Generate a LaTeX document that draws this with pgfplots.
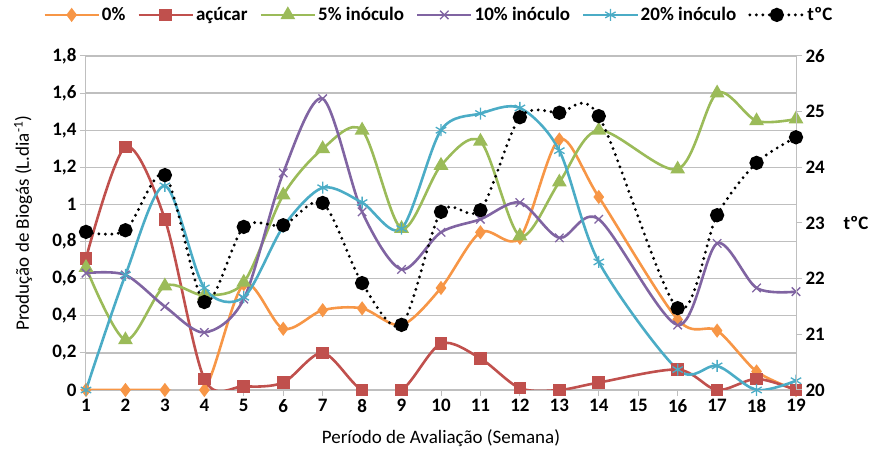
\documentclass[border=0pt]{standalone}
\usepackage{pgfplots}
\pgfplotsset{compat=1.18}
\usepackage{fontspec}
\setmainfont{Carlito}
\definecolor{c0}{HTML}{F79646}
\definecolor{c1}{HTML}{C0504D}
\definecolor{c2}{HTML}{9BBB59}
\definecolor{c3}{HTML}{8064A2}
\definecolor{c4}{HTML}{4BACC6}
\definecolor{gridc}{HTML}{BFBFBF}
\newcommand{\fs}{\fontsize{19}{22}\selectfont}
\pgfplotsset{
  common/.style={
    scale only axis, width=710pt, height=334pt,
    xmin=1, xmax=19,
    /pgf/number format/assume math mode=true,
    tick label style={font=\fs\bfseries},
    major tick length=6pt,
    tick align=outside,
    tick style={gridc, line width=1pt},
    axis line style={gridc, line width=1pt},
  },
  ser/.style={line width=2.6pt, smooth, tension=0.5, mark options={solid}},
}
\begin{document}
\begin{tikzpicture}
\begin{axis}[common, name=ax,
  ymin=0, ymax=1.8,
  axis y line*=left, axis x line*=bottom,
  xtick={1,...,19},
  ytick={0,0.2,0.4,0.6,0.8,1,1.2,1.4,1.6,1.8},
  yticklabel style={/pgf/number format/.cd, use comma, fixed, precision=1},
  ymajorgrids, grid style={gridc, line width=1.3pt},
  legend columns=6,
  legend style={draw=none, fill=none, font=\fs\bfseries, at={(0.497,1.123)}, anchor=center,
    /tikz/every even column/.append style={column sep=10pt}},
  legend image code/.code={\draw[mark repeat=2,mark phase=2,#1] plot coordinates {(0pt,0pt) (27pt,0pt) (54pt,0pt)};},
]
\addplot[ser, c0, mark=diamond*, mark size=5pt, mark options={fill=c0}] coordinates {
(1,0) (2,0) (3,0) (4,0) (5,0.57) (6,0.33) (7,0.43) (8,0.44) (9,0.35) (10,0.55)
(11,0.85) (12,0.82) (13,1.35) (14,1.04) (16,0.38) (17,0.32) (18,0.10) (19,0)};
\addlegendentry{0\%}
\addplot[ser, c1, mark=square*, mark size=5pt, mark options={fill=c1}] coordinates {
(1,0.71) (2,1.31) (3,0.92) (4,0.06) (5,0.02) (6,0.04) (7,0.20) (8,0) (9,0) (10,0.25)
(11,0.17) (12,0.01) (13,0) (14,0.04) (16,0.11) (17,0) (18,0.06) (19,0)};
\addlegendentry{açúcar}
\addplot[ser, c2, mark=triangle*, mark size=6pt, mark options={fill=c2}] coordinates {
(1,0.66) (2,0.27) (3,0.56) (4,0.51) (5,0.58) (6,1.05) (7,1.30) (8,1.40) (9,0.87) (10,1.21)
(11,1.34) (12,0.83) (13,1.12) (14,1.40) (16,1.19) (17,1.60) (18,1.45) (19,1.46)};
\addlegendentry{5\% inóculo}
\addplot[ser, c3, mark=x, mark size=6pt, mark options={line width=1.3pt}] coordinates {
(1,0.63) (2,0.62) (3,0.45) (4,0.31) (5,0.49) (6,1.17) (7,1.57) (8,0.96) (9,0.65) (10,0.85)
(11,0.92) (12,1.01) (13,0.82) (14,0.92) (16,0.35) (17,0.79) (18,0.55) (19,0.53)};
\addlegendentry{10\% inóculo}
\addplot[ser, c4, mark=asterisk, mark size=6pt, mark options={line width=1.3pt}] coordinates {
(1,0) (2,0.62) (3,1.10) (4,0.55) (5,0.50) (6,0.88) (7,1.09) (8,1.01) (9,0.87) (10,1.40)
(11,1.49) (12,1.52) (13,1.29) (14,0.69) (16,0.11) (17,0.13) (18,0) (19,0.05)};
\addlegendentry{20\% inóculo}
\addlegendimage{black, line width=3.2pt, line cap=round, dash pattern=on 0pt off 6.5pt, mark=*, mark size=5.5pt, mark options={solid}}
\addlegendentry{tºC}
\end{axis}
\begin{axis}[common,
  ymin=20, ymax=26,
  axis y line*=right, axis x line=none,
  ytick={20,21,22,23,24,25,26},
]
\addplot[black, line width=3.2pt, line cap=round, dash pattern=on 0pt off 6.5pt, smooth, tension=0.5, mark=*, mark size=5.5pt, mark options={solid}] coordinates {
(1,22.84) (2,22.87) (3,23.86) (4,21.58) (5,22.93) (6,22.96) (7,23.36) (8,21.92) (9,21.17) (10,23.20)
(11,23.23) (12,24.90) (13,24.98) (14,24.92) (16,21.47) (17,23.14) (18,24.08) (19,24.54)};
\end{axis}
\node[font=\fs, rotate=90] at ([xshift=-63pt]ax.west) {Produção de Biogás (L.dia\textsuperscript{-1})};
\node[font=\fs] at ([yshift=-48pt]ax.south) {Período de Avaliação (Semana)};
\node[font=\fs\bfseries, anchor=west] at ([xshift=44pt]ax.east) {tºC};
\path ([xshift=-86pt,yshift=-64pt]ax.south west) rectangle ([xshift=80pt,yshift=56pt]ax.north east);
\end{tikzpicture}
\end{document}
